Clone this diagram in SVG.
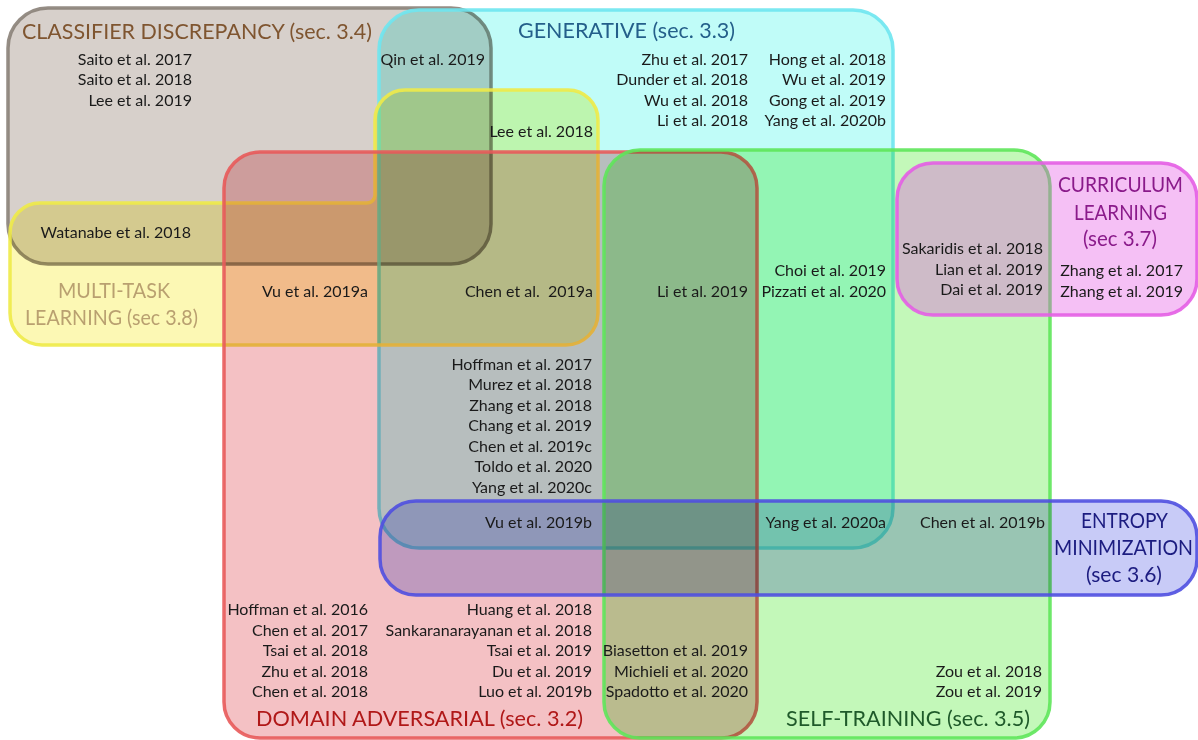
<svg xmlns="http://www.w3.org/2000/svg" width="1198" height="740" viewBox="0 0 1198 740">
<style>
.f{mix-blend-mode:multiply;stroke:none}
.s{fill:none;stroke-width:3.5;stroke-opacity:0.9}
.t{font-family:Lato,"Open Sans","Liberation Sans",sans-serif;font-size:16px;fill:#1a1a1a;text-anchor:end}
.h{font-family:Lato,"Open Sans","Liberation Sans",sans-serif;font-size:22px}
.c{text-anchor:middle}
</style>
<rect width="1198" height="740" fill="#ffffff"/>
<g id="sets">
<g id="classifier">
<rect class="f" x="8" y="8" width="483" height="256" rx="40" fill="#d7d0cb"/>
<rect class="s" x="8" y="8" width="483" height="256" rx="40" stroke="#8a8178"/>
</g>
<g id="generative">
<rect class="f" x="379" y="10" width="514" height="538" rx="40" fill="#c0fcf8"/>
<rect class="s" x="379" y="10" width="514" height="538" rx="40" stroke="#6ee6f0"/>
</g>
<g id="multitask">
<path class="f" d="M40,203 L367,203 A8,8 0 0 0 375,195 L375,120 A30,30 0 0 1 405,90 L568,90 A30,30 0 0 1 598,120 L598,313 A32,32 0 0 1 566,345 L42,345 A32,32 0 0 1 10,313 L10,233 A30,30 0 0 1 40,203 Z" fill="#fcf8b4"/>
<path class="s" d="M40,203 L367,203 A8,8 0 0 0 375,195 L375,120 A30,30 0 0 1 405,90 L568,90 A30,30 0 0 1 598,120 L598,313 A32,32 0 0 1 566,345 L42,345 A32,32 0 0 1 10,313 L10,233 A30,30 0 0 1 40,203 Z" stroke="#eeea48"/>
</g>
<g id="adversarial">
<rect class="f" x="224" y="152" width="533" height="586" rx="36" fill="#f4c1c4"/>
<rect class="s" x="224" y="152" width="533" height="586" rx="36" stroke="#e85a5a"/>
</g>
<g id="selftraining">
<rect class="f" x="604" y="150" width="446" height="588" rx="36" fill="#c3f8b9"/>
<rect class="s" x="604" y="150" width="446" height="588" rx="36" stroke="#5ee65a"/>
</g>
<g id="curriculum">
<rect x="897" y="163" width="300" height="152" rx="36" fill="#e450e4" fill-opacity="0.36"/>
<rect class="s" x="897" y="163" width="300" height="152" rx="36" stroke="#e45ee4"/>
</g>
<g id="entropy">
<rect class="f" x="380" y="501" width="817" height="94" rx="36" fill="#c8cbf7"/>
<rect class="s" x="380" y="501" width="817" height="94" rx="36" stroke="#4f4fe0"/>
</g>
</g>
<g id="connectors"></g>
<g id="labels">
<text class="h" x="22" y="39" fill="#7f5530" textLength="350" lengthAdjust="spacingAndGlyphs">CLASSIFIER DISCREPANCY (sec. 3.4)</text>
<text class="t" x="192" y="65">Saito et al. 2017</text>
<text class="t" x="192" y="85">Saito et al. 2018</text>
<text class="t" x="192" y="106">Lee et al. 2019</text>
<text class="t" x="191" y="238">Watanabe et al. 2018</text>

<text class="h" x="518" y="38" fill="#245f8a" textLength="217" lengthAdjust="spacingAndGlyphs">GENERATIVE (sec. 3.3)</text>
<text class="t" x="485" y="65">Qin et al. 2019</text>
<text class="t" x="748" y="65">Zhu et al. 2017</text>
<text class="t" x="748" y="85">Dunder et al. 2018</text>
<text class="t" x="748" y="106">Wu et al. 2018</text>
<text class="t" x="748" y="126">Li et al. 2018</text>
<text class="t" x="886" y="65">Hong et al. 2018</text>
<text class="t" x="886" y="85">Wu et al. 2019</text>
<text class="t" x="886" y="106">Gong et al. 2019</text>
<text class="t" x="886" y="126">Yang et al. 2020b</text>
<text class="t" x="593" y="137">Lee et al. 2018</text>

<text class="h" x="58" y="298" fill="#b9a070" textLength="112" lengthAdjust="spacingAndGlyphs">MULTI-TASK</text>
<text class="h" x="25" y="325" fill="#b9a070" textLength="173" lengthAdjust="spacingAndGlyphs">LEARNING (sec 3.8)</text>
<text class="t" x="368" y="297">Vu et al. 2019a</text>
<text class="t" x="593" y="297" xml:space="preserve">Chen et al.  2019a</text>
<text class="t" x="748" y="297">Li et al. 2019</text>
<text class="t" x="886" y="276">Choi et al. 2019</text>
<text class="t" x="886" y="297">Pizzati et al. 2020</text>
<text class="t" x="1043" y="254">Sakaridis et al. 2018</text>
<text class="t" x="1043" y="275">Lian et al. 2019</text>
<text class="t" x="1043" y="295">Dai et al. 2019</text>
<text class="h" x="1058" y="192" fill="#8a1a8a" textLength="125" lengthAdjust="spacingAndGlyphs">CURRICULUM</text>
<text class="h" x="1074" y="220" fill="#8a1a8a" textLength="93" lengthAdjust="spacingAndGlyphs">LEARNING</text>
<text class="h" x="1083" y="246" fill="#8a1a8a" textLength="74" lengthAdjust="spacingAndGlyphs">(sec 3.7)</text>
<text class="t" x="1183" y="276">Zhang et al. 2017</text>
<text class="t" x="1183" y="297">Zhang et al. 2019</text>

<text class="t" x="592" y="370">Hoffman et al. 2017</text>
<text class="t" x="592" y="390">Murez et al. 2018</text>
<text class="t" x="592" y="411">Zhang et al. 2018</text>
<text class="t" x="592" y="431">Chang et al. 2019</text>
<text class="t" x="592" y="452">Chen et al. 2019c</text>
<text class="t" x="592" y="472">Toldo et al. 2020</text>
<text class="t" x="592" y="493">Yang et al. 2020c</text>

<text class="t" x="592" y="528">Vu et al. 2019b</text>
<text class="t" x="886" y="528">Yang et al. 2020a</text>
<text class="t" x="1045" y="528">Chen et al. 2019b</text>
<text class="h" x="1081" y="528" fill="#1c1c80" textLength="87" lengthAdjust="spacingAndGlyphs">ENTROPY</text>
<text class="h" x="1054" y="555" fill="#1c1c80" textLength="139" lengthAdjust="spacingAndGlyphs">MINIMIZATION</text>
<text class="h" x="1086" y="582" fill="#1c1c80" textLength="76" lengthAdjust="spacingAndGlyphs">(sec 3.6)</text>

<text class="t" x="368" y="615">Hoffman et al. 2016</text>
<text class="t" x="368" y="636">Chen et al. 2017</text>
<text class="t" x="368" y="656">Tsai et al. 2018</text>
<text class="t" x="368" y="677">Zhu et al. 2018</text>
<text class="t" x="368" y="697">Chen et al. 2018</text>
<text class="t" x="592" y="615">Huang et al. 2018</text>
<text class="t" x="592" y="636">Sankaranarayanan et al. 2018</text>
<text class="t" x="592" y="656">Tsai et al. 2019</text>
<text class="t" x="592" y="677">Du et al. 2019</text>
<text class="t" x="592" y="697">Luo et al. 2019b</text>
<text class="h" x="256" y="726" fill="#b01818" textLength="327" lengthAdjust="spacingAndGlyphs">DOMAIN ADVERSARIAL (sec. 3.2)</text>
<text class="t" x="748" y="656">Biasetton et al. 2019</text>
<text class="t" x="748" y="677">Michieli et al. 2020</text>
<text class="t" x="748" y="697">Spadotto et al. 2020</text>
<text class="t" x="1042" y="677">Zou et al. 2018</text>
<text class="t" x="1042" y="697">Zou et al. 2019</text>
<text class="h" x="786" y="726" fill="#1f5a2a" textLength="244" lengthAdjust="spacingAndGlyphs">SELF-TRAINING (sec. 3.5)</text>
</g>
</svg>
